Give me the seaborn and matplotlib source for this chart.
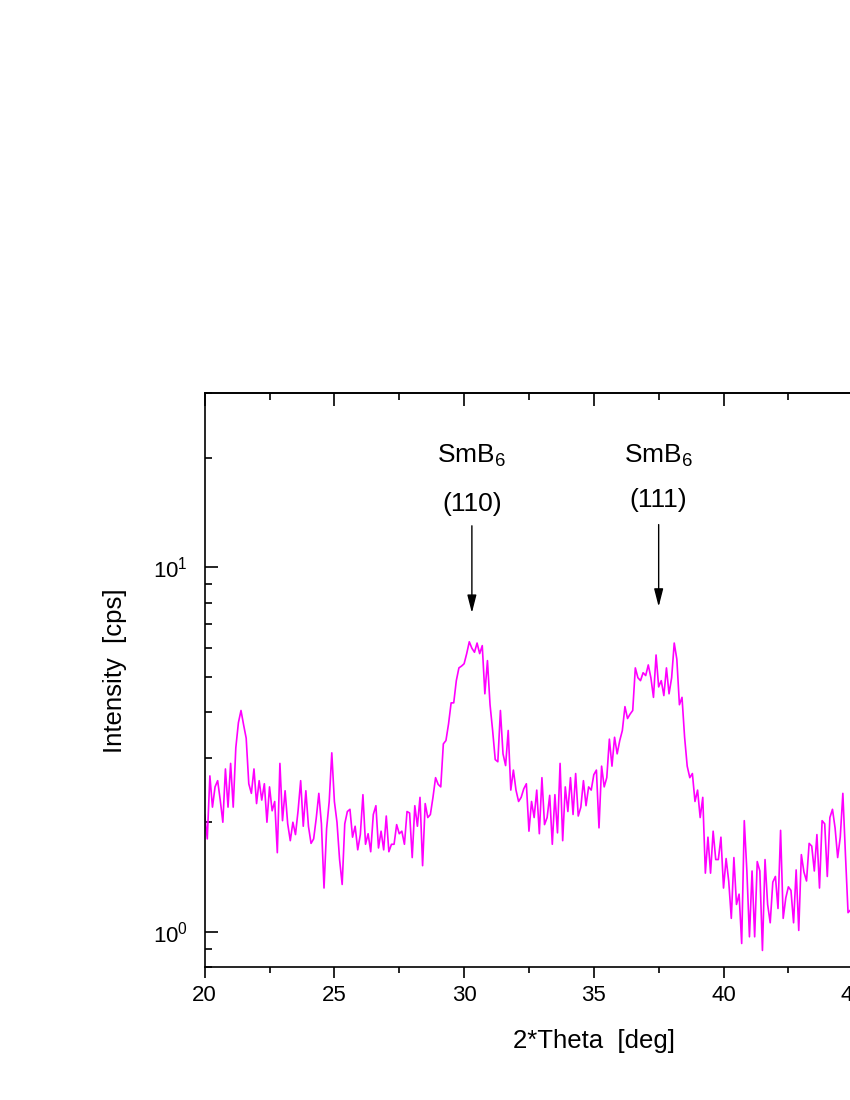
import numpy as np
import pandas as pd
import matplotlib
matplotlib.use('Agg')
import matplotlib.pyplot as plt
import seaborn as sns
from matplotlib.ticker import MultipleLocator, LogLocator, NullFormatter

# 2-theta scan grid (deg), 0.1 deg step
theta = np.linspace(20.0, 45.0, 251)

intensity = [
    # 20.0 - 25.0
    2.1, 1.8, 2.68, 2.2, 2.5, 2.6, 2.3, 2.0, 2.8, 2.2,
    2.9, 2.2, 3.2, 3.75, 4.05, 3.7, 3.4, 2.55, 2.4, 2.8,
    2.25, 2.6, 2.3, 2.55, 2.0, 2.5, 2.15, 2.28, 1.65, 2.9,
    2.02, 2.44, 1.98, 1.78, 2.0, 1.85, 2.15, 2.6, 1.95, 2.44,
    1.95, 1.75, 1.8, 2.05, 2.4, 1.98, 1.32, 1.92, 2.28, 3.1,
    2.28,
    # 25.1 - 29.9
    2.0, 1.58, 1.35, 1.98, 2.14, 2.17, 1.82, 1.95, 1.68, 1.85,
    2.38, 1.74, 1.86, 1.66, 2.1, 2.22, 1.7, 1.89, 1.68, 2.08,
    1.66, 1.74, 1.74, 1.97, 1.86, 1.89, 1.74, 2.14, 2.12, 1.6,
    2.22, 1.95, 2.34, 1.52, 2.25, 2.06, 2.1, 2.34, 2.65, 2.54,
    2.5, 3.28, 3.35, 3.72, 4.25, 4.25, 4.89, 5.3, 5.36,
    # 30.0 - 34.9
    5.44, 5.8, 6.25, 6.0, 5.85, 6.2, 5.8, 6.1, 4.5, 5.55,
    4.2, 3.57, 2.97, 2.93, 4.05, 3.08, 2.86, 3.57, 2.45, 2.78,
    2.45, 2.28, 2.34, 2.47, 2.55, 1.89, 2.28, 2.06, 2.45, 1.86,
    2.65, 1.97, 2.06, 2.37, 1.74, 2.38, 1.87, 2.9, 1.78, 2.5,
    2.14, 2.65, 2.1, 2.72, 2.08, 2.2, 2.6, 2.22, 2.5, 2.45,
    # 35.0 - 39.9
    2.7, 2.78, 1.93, 2.85, 2.5, 2.65, 3.38, 2.85, 3.42, 3.08,
    3.35, 3.57, 4.15, 3.85, 3.96, 4.05, 5.3, 4.98, 4.89, 5.14,
    5.05, 5.4, 4.98, 4.4, 5.75, 4.7, 4.89, 4.45, 5.3, 4.5,
    4.98, 6.2, 5.6, 4.2, 4.4, 3.42, 2.85, 2.65, 2.72, 2.28,
    2.45, 2.06, 2.34, 1.45, 1.82, 1.45, 1.89, 1.58, 1.58, 1.82,
    # 40.0 - 45.0
    1.32, 1.59, 1.38, 1.09, 1.6, 1.19, 1.27, 0.93, 2.02, 1.47,
    0.97, 1.47, 0.97, 1.56, 1.47, 0.89, 1.58, 1.19, 1.06, 1.37,
    1.42, 1.16, 1.9, 1.09, 1.24, 1.33, 1.3, 1.06, 1.48, 1.01,
    1.63, 1.46, 1.38, 1.75, 1.72, 1.47, 1.85, 1.32, 2.02, 1.98,
    1.42, 2.06, 2.17, 1.93, 1.6, 1.82, 2.4, 1.63, 1.13, 1.15,
    1.2,
]

# reflections marked with arrows
peak_phase = ['SmB$_6$', 'SmB$_6$']
peak_hkl = ['(110)', '(111)']
peak_theta = [30.3, 37.5]
arrow_tip = [7.5, 7.8]
arrow_tail = [13.0, 13.1]
phase_y = [19.4, 19.4]
hkl_y = [14.25, 14.6]

df = pd.DataFrame({'theta': theta, 'intensity': intensity})

sns.set_style('ticks')
plt.rcParams['font.family'] = ['Liberation Sans', 'DejaVu Sans']
plt.rcParams['mathtext.fontset'] = 'custom'
plt.rcParams['mathtext.rm'] = 'Liberation Sans'
plt.rcParams['mathtext.it'] = 'Liberation Sans:italic'
plt.rcParams['mathtext.default'] = 'regular'
for key in ['text.color', 'axes.labelcolor', 'axes.edgecolor', 'xtick.color', 'ytick.color']:
    plt.rcParams[key] = 'black'

fig = plt.figure(figsize=(8.5, 11), dpi=100)
ax = fig.add_axes([0.2408, 0.1206, 0.9156, 0.5218])

sns.lineplot(data=df, x='theta', y='intensity', color='#FF00FF', lw=1.2, ax=ax)

ax.set_yscale('log')
ax.set_xlim(20, 50)
ax.set_ylim(0.8, 30)

for s in ax.spines.values():
    s.set_linewidth(1.2)
    s.set_color('black')

ax.xaxis.set_major_locator(MultipleLocator(5))
ax.xaxis.set_minor_locator(MultipleLocator(2.5))
ax.yaxis.set_major_locator(LogLocator(base=10))
ax.yaxis.set_minor_locator(LogLocator(base=10, subs=np.arange(2, 10)))
ax.yaxis.set_minor_formatter(NullFormatter())

ax.tick_params(axis='x', which='both', direction='out', top=False, width=1.2,
               labelsize=16, pad=5, colors='black')
ax.tick_params(axis='x', which='major', length=8)
ax.tick_params(axis='x', which='minor', length=4)
ax.tick_params(axis='y', which='both', direction='in', right=False, width=1.2,
               labelsize=16, pad=12, colors='black')
ax.tick_params(axis='y', which='major', length=9)
ax.tick_params(axis='y', which='minor', length=5)

# top axis has inward ticks
top = ax.secondary_xaxis('top')
top.xaxis.set_major_locator(MultipleLocator(5))
top.xaxis.set_minor_locator(MultipleLocator(2.5))
top.tick_params(which='both', direction='in', width=1.2, labeltop=False, colors='black')
top.tick_params(which='major', length=9)
top.tick_params(which='minor', length=5)
top.spines['top'].set_linewidth(1.2)
top.spines['top'].set_color('black')

ax.set_xlabel('2*Theta  [deg]', fontsize=18.5, color='black')
ax.set_ylabel('Intensity  [cps]', fontsize=18.5, color='black')
ax.xaxis.set_label_coords(0.5, -0.1066)
ax.yaxis.set_label_coords(-0.0992, 0.516)

for i in range(len(peak_theta)):
    ax.annotate('', xy=(peak_theta[i], arrow_tip[i]), xytext=(peak_theta[i], arrow_tail[i]),
                arrowprops=dict(arrowstyle='-|>,head_length=0.9,head_width=0.23',
                                color='black', lw=1, mutation_scale=12,
                                shrinkA=0, shrinkB=0))
    ax.text(peak_theta[i], phase_y[i], peak_phase[i], ha='center', va='baseline',
            fontsize=19, color='black')
    ax.text(peak_theta[i], hkl_y[i], peak_hkl[i], ha='center', va='baseline',
            fontsize=19, color='black')

fig.savefig('out.png', dpi=100)
